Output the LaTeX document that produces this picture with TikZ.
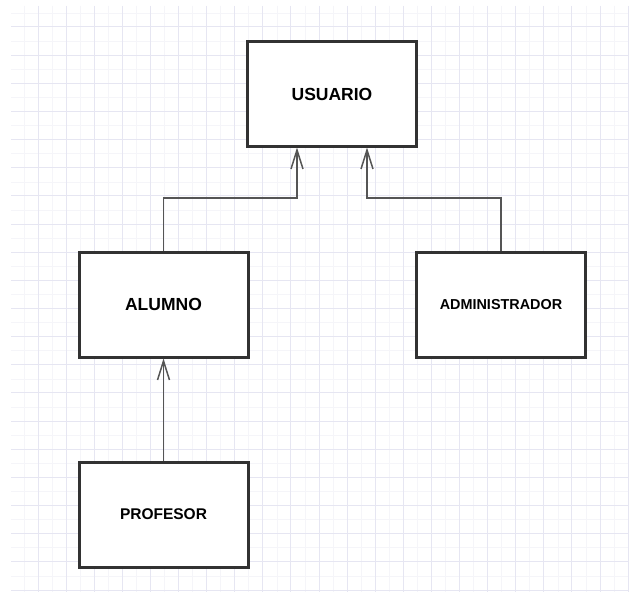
\documentclass[tikz,border=0pt]{standalone}
\usepackage{fontspec}
\setmainfont{Liberation Sans}
\usetikzlibrary{arrows.meta}
\definecolor{gridmaj}{RGB}{230,230,242}
\definecolor{gridmin}{RGB}{245,245,249}
\definecolor{boxline}{RGB}{50,50,50}
\definecolor{conline}{RGB}{85,85,85}
\tikzset{
  classbox/.style={draw=boxline, line width=3pt, fill=white, minimum width=169pt, minimum height=105pt, inner sep=0pt, font=\bfseries},
  inherit/.style={draw=conline, line width=1.5pt, -{Straight Barb[length=19pt,width=12pt]}}
}
\begin{document}
\begin{tikzpicture}[x=1pt,y=-1pt]
\useasboundingbox (0,0) rectangle (639,594);
\fill[white] (0,0) rectangle (639,594);
% minor grid
\foreach \i in {0,...,22} {
  \draw[gridmin, line width=0.8pt] ({24+28.1*\i},6) -- ({24+28.1*\i},592);
}
\foreach \j in {0,...,21} {
  \draw[gridmin, line width=0.8pt] (11,{13+28.15*\j}) -- (628,{13+28.15*\j});
}
% major grid
\foreach \i in {0,...,21} {
  \draw[gridmaj, line width=1pt] ({38+28.1*\i},6) -- ({38+28.1*\i},592);
}
\foreach \j in {0,...,20} {
  \draw[gridmaj, line width=1pt] (11,{27+28.15*\j}) -- (628,{27+28.15*\j});
}
% boxes
\node[classbox, font=\bfseries\fontsize{17.5}{20}\selectfont] (usuario) at (332,94) {USUARIO};
\node[classbox, font=\bfseries\fontsize{17.5}{20}\selectfont] (alumno) at (163.5,304.5) {ALUMNO};
\node[classbox, font=\bfseries\fontsize{14.4}{17}\selectfont] (admin) at (501,304.5) {ADMINISTRADOR};
\node[classbox, font=\bfseries\fontsize{15.5}{18}\selectfont] (profesor) at (163.5,514.5) {PROFESOR};
% connectors
\coordinate (ua) at (297,147.5);
\coordinate (ub) at (367,147.5);
\draw[inherit] (alumno.north) -- ++(0,-52.5) -| (ua);
\draw[inherit] (admin.north) -- ++(0,-52.5) -| (ub);
\draw[inherit] (profesor.north) -- (alumno.south);
\end{tikzpicture}
\end{document}
